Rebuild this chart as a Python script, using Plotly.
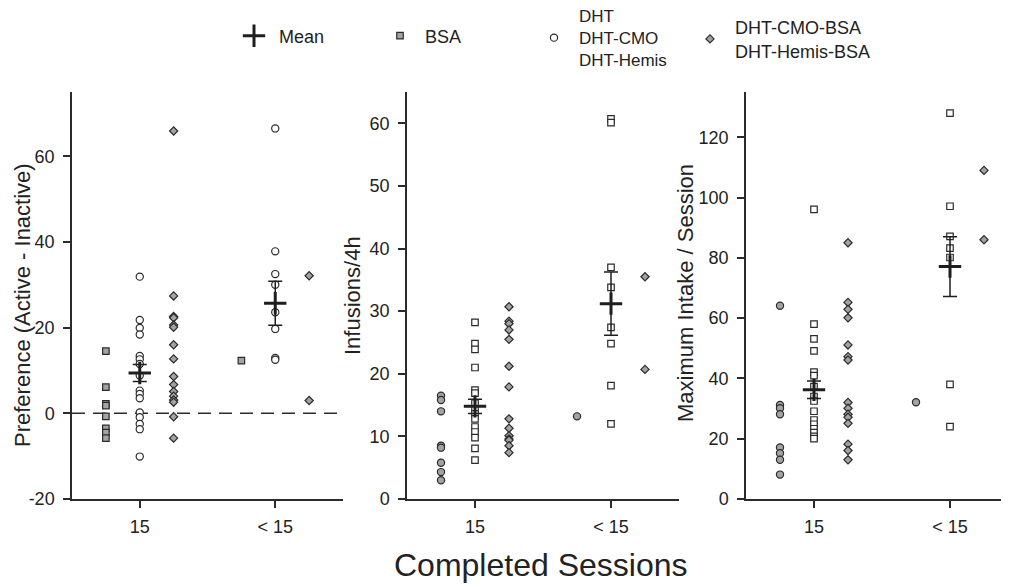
import plotly.graph_objects as go

W, H = 1009, 587
# the page body adds an 8px margin around the figure; positions below are
# given in screenshot pixels and converted with this offset
OX, OY = 8, 8

categories = ["15", "< 15"]

# Panel 1: Preference (Active - Inactive)
p1_15_sq = [14.5, 6.1, 2.2, 1.8, -0.7, -3.5, -4.5, -5.8]
p1_15_ci = [31.9, 21.8, 19.9, 18.4, 13.4, 12.6, 11.5, 8.8, 5.3, 4.5, 3.5, 0.2, -0.9, -2.5, -3.7, -10.1]
p1_15_di = [65.9, 27.4, 22.6, 22.3, 20.6, 20.1, 16.0, 12.7, 8.6, 6.7, 5.1, 4.0, 3.1, 2.6, -0.8, -5.8]
p1_lt_sq = [12.3]
p1_lt_ci = [66.5, 37.8, 32.5, 30.0, 23.6, 19.7, 12.9, 12.5]
p1_lt_di = [32.1, 3.0]
p1_mean = [9.4, 25.7]
p1_sem = [2.0, 5.15]

# Panel 2: Infusions/4h
p2_15_ci = [16.5, 15.8, 14.0, 8.5, 8.2, 5.8, 4.3, 3.0]
p2_15_sq = [28.2, 24.8, 23.9, 21.0, 17.4, 16.9, 15.3, 14.4, 13.6, 12.8, 11.5, 10.7, 9.8, 8.1, 6.2]
p2_15_di = [30.7, 28.4, 28.0, 27.0, 25.5, 21.2, 17.9, 12.8, 11.3, 10.1, 9.6, 9.4, 8.5, 7.4]
p2_lt_ci = [13.2]
p2_lt_sq = [60.7, 60.1, 37.0, 33.8, 27.4, 24.8, 18.1, 12.0]
p2_lt_di = [35.5, 20.7]
p2_mean = [14.8, 31.2]
p2_sem = [1.15, 5.05]

# Panel 3: Maximum Intake / Session
p3_15_ci = [64.1, 31.2, 30.1, 28.1, 17.1, 15.2, 13.0, 8.1]
p3_15_sq = [96.1, 58.0, 53.1, 49.1, 42.1, 40.9, 37.3, 34.0, 32.5, 29.1, 26.2, 24.8, 23.3, 22.0, 20.8, 20.0]
p3_15_di = [85.0, 65.2, 62.9, 60.1, 51.1, 47.2, 46.1, 32.0, 30.1, 28.1, 27.1, 25.1, 18.2, 16.1, 13.0]
p3_lt_ci = [32.1]
p3_lt_sq = [128.0, 97.1, 87.1, 83.2, 80.1, 38.0, 24.0]
p3_lt_di = [109.0, 86.0]
p3_mean = [36.2, 77.1]
p3_sem = [2.9, 9.9]

y_titles = ["Preference (Active - Inactive)", "Infusions/4h", "Maximum Intake / Session"]
y_ranges = [[-20, 75], [0, 65], [0, 135]]
y_ticks = [[-20, 0, 20, 40, 60], [0, 10, 20, 30, 40, 50, 60], [0, 20, 40, 60, 80, 100, 120]]

legend_names = ["Mean", "BSA", "DHT<br>DHT-CMO<br>DHT-Hemis", "DHT-CMO-BSA<br>DHT-Hemis-BSA"]

FONT = "Liberation Sans, Arial, sans-serif"
INK = "#2b2b2b"
GRAY = "#a3a3a3"


def fx(sx):
    return (sx - OX) / W


def fy(sy):
    return 1 - (sy - OY) / H


# panel geometry in screenshot pixels
x_px = [(72, 343), (407, 679), (746, W + OX)]
x_rng = [[-0.5, 1.5], [-0.5, 1.5], [-0.5, -0.5 + (W + OX - 746) / 136]]
y_top, y_bot = 92, 499


def marker(sym, fill, size):
    return dict(symbol=sym, color=fill, size=size, line=dict(color=INK, width=1.2))


SQ = ("square", 6.5)
CI = ("circle", 7.2)
DI = ("diamond", 6.3)

panels = [
    [(SQ, GRAY, p1_15_sq, p1_lt_sq), (CI, "white", p1_15_ci, p1_lt_ci), (DI, GRAY, p1_15_di, p1_lt_di), p1_mean, p1_sem],
    [(CI, GRAY, p2_15_ci, p2_lt_ci), (SQ, "white", p2_15_sq, p2_lt_sq), (DI, GRAY, p2_15_di, p2_lt_di), p2_mean, p2_sem],
    [(CI, GRAY, p3_15_ci, p3_lt_ci), (SQ, "white", p3_15_sq, p3_lt_sq), (DI, GRAY, p3_15_di, p3_lt_di), p3_mean, p3_sem],
]

offsets = [-0.25, 0.0, 0.25]

fig = go.Figure()

for pi, panel in enumerate(panels):
    xa = "x" if pi == 0 else f"x{pi+1}"
    ya = "y" if pi == 0 else f"y{pi+1}"
    cols = panel[:3]
    means, sems = panel[3], panel[4]
    for ci, ((sym, size), fill, d15, dlt) in enumerate(cols):
        xs = [0 + offsets[ci]] * len(d15) + [1 + offsets[ci]] * len(dlt)
        ys = list(d15) + list(dlt)
        if pi == 0:
            leg = ["legend2", "legend3", "legend4"][ci]
            nm = legend_names[ci + 1]
            show = True
        else:
            leg, nm, show = "legend", "", False
        fig.add_trace(go.Scatter(
            x=xs, y=ys, mode="markers", xaxis=xa, yaxis=ya,
            marker=marker(sym, fill, size), name=nm, showlegend=show, legend=leg,
            hoverinfo="y"))
    fig.add_trace(go.Scatter(
        x=[0, 1], y=means, mode="markers", xaxis=xa, yaxis=ya,
        marker=dict(symbol="cross-thin", size=16, line=dict(color="#1e1e1e", width=3)),
        error_y=dict(type="data", array=sems, visible=True, thickness=1.5, width=7, color="#1e1e1e"),
        name=legend_names[0], showlegend=(pi == 0), legend="legend"))

axis_common = dict(showline=True, linecolor=INK, linewidth=1.5, ticks="outside", ticklen=7,
                   tickwidth=1.5, tickcolor=INK, showgrid=False, zeroline=False,
                   automargin=False, tickfont=dict(family=FONT, size=18, color="#222"))

layout = dict(width=W, height=H, margin=dict(l=0, r=0, t=0, b=0, pad=0, autoexpand=False),
              paper_bgcolor="white", plot_bgcolor="white",
              font=dict(family=FONT, color="#222"))

for pi in range(3):
    xk = "xaxis" if pi == 0 else f"xaxis{pi+1}"
    yk = "yaxis" if pi == 0 else f"yaxis{pi+1}"
    xa = "x" if pi == 0 else f"x{pi+1}"
    ya = "y" if pi == 0 else f"y{pi+1}"
    layout[xk] = dict(domain=[fx(x_px[pi][0]), min(1.0, fx(x_px[pi][1]))], range=x_rng[pi],
                      tickvals=[0, 1], ticktext=categories, anchor=ya,
                      ticklabelstandoff=4, **axis_common)
    layout[yk] = dict(domain=[fy(y_bot), fy(y_top)], range=y_ranges[pi],
                      tickvals=y_ticks[pi], ticktext=[str(v) for v in y_ticks[pi]],
                      anchor=xa, ticklabelstandoff=5, **axis_common)

fig.update_layout(**layout)

# zero reference line in panel 1
fig.add_shape(type="line", xref="x domain", x0=0, x1=1, yref="y", y0=0, y1=0,
              line=dict(color=INK, width=1.5, dash="13px,8px"), layer="below")

# axis titles
title_pos = [(23, 305), (353, 296), (685, 293)]
for (tx, ty), t in zip(title_pos, y_titles):
    fig.add_annotation(text=t, x=fx(tx), y=fy(ty), xref="paper", yref="paper",
                       textangle=-90, showarrow=False, xanchor="center", yanchor="middle",
                       font=dict(family=FONT, size=22, color="#222"))
fig.add_annotation(text="Completed Sessions", x=fx(540), y=fy(565), xref="paper", yref="paper",
                   showarrow=False, xanchor="center", yanchor="middle",
                   font=dict(family=FONT, size=32, color="#222"))

# legends (symbol x position, vertical centre and font size, screenshot px)
sym_x = [253, 399, 553, 709]
sym_y = [36, 36, 38, 39]
leg_size = [18, 18, 17, 18]
leg_keys = ["legend", "legend2", "legend3", "legend4"]
for k, sx, sy, fs in zip(leg_keys, sym_x, sym_y, leg_size):
    fig.update_layout(**{k: dict(x=fx(sx - 24), xanchor="left", y=fy(sy), yanchor="middle",
                                 bgcolor="rgba(0,0,0,0)", borderwidth=0, itemwidth=40,
                                 font=dict(family=FONT, size=fs, color="#222"))})

fig.write_html("out.html")
